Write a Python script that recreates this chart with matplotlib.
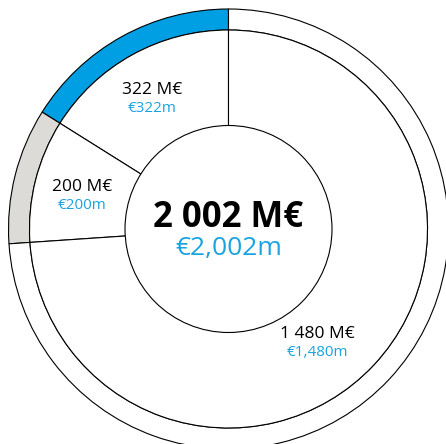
import matplotlib.pyplot as plt
from matplotlib.patches import Circle

plt.rcParams['font.family'] = ['Open Sans', 'DejaVu Sans']

values = [322, 200, 1480]
labels_fr = ["322 M€", "200 M€", "1 480 M€"]
labels_en = ["€322m", "€200m", "€1,480m"]
ring_colors = ["#009FE3", "#DCDBD8", "white"]
total_fr = "2 002 M€"
total_en = "€2,002m"

BLUE_TXT = "#1AA3E1"

fig = plt.figure(figsize=(4.46, 4.44), dpi=100)
ax = fig.add_axes([0, 0, 1, 1])
ax.set_xlim(0, 446)
ax.set_ylim(0, 444)
ax.set_aspect('equal')
ax.axis('off')

cx, cy = 228.5, 444 - 229

# outer thin ring
ax.pie(values, colors=ring_colors, startangle=90, counterclock=True,
       radius=220, center=(cx, cy), frame=True,
       wedgeprops=dict(width=21, edgecolor='black', linewidth=0.8))
# inner white wedges
ax.pie(values, colors=['white'] * 3, startangle=90, counterclock=True,
       radius=199, center=(cx, cy), frame=True,
       wedgeprops=dict(edgecolor='black', linewidth=0.8))
# centre circle
ax.add_patch(Circle((cx, cy), 103.5, facecolor='white', edgecolor='black', linewidth=0.8, zorder=3))
ax.set_xlim(0, 446)
ax.set_ylim(0, 444)
ax.axis('off')

# label positions in image pixels (x, y of first line)
label_pos = [(152, 90), (82.5, 187), (317, 333.5)]
for (x, y), fr, en in zip(label_pos, labels_fr, labels_en):
    ax.text(x, 444 - y, fr, ha='center', va='center', fontsize=12.5, color='black', zorder=4)
    ax.text(x, 444 - y - 19, en, ha='center', va='center', fontsize=11, color=BLUE_TXT, zorder=4)

ax.text(cx, 444 - 218, total_fr, ha='center', va='center', fontsize=25,
        fontweight='bold', color='black', zorder=4)
ax.text(cx, 444 - 248, total_en, ha='center', va='center', fontsize=19,
        color=BLUE_TXT, zorder=4)

fig.savefig('out.png', dpi=100, facecolor='white')
